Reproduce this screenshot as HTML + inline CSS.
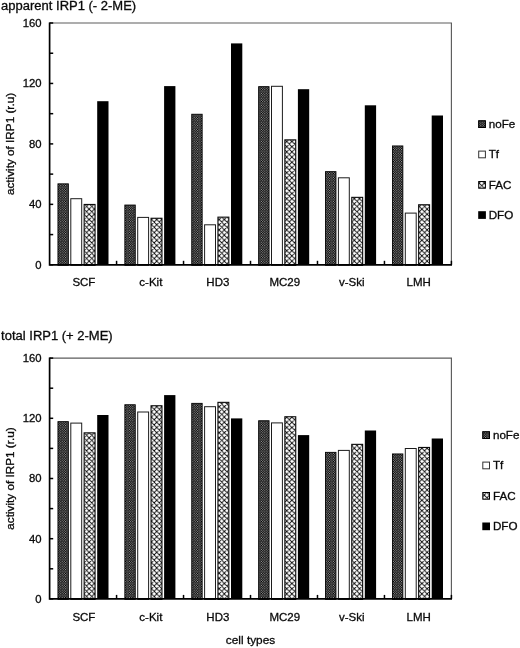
<!DOCTYPE html>
<html><head><meta charset="utf-8"><title>IRP1 activity</title>
<style>
html,body{margin:0;padding:0;background:#fff;}
body{width:520px;height:648px;overflow:hidden;}
svg{display:block;filter:grayscale(1) blur(0.22px);}
text{font-family:"Liberation Sans",Arial,Helvetica,sans-serif;font-size:12px;fill:#0a0a0a;stroke:#0a0a0a;stroke-width:0.3px;}
</style></head><body>
<svg width="520" height="648" viewBox="0 0 520 648">
<defs>
<pattern id="pn" patternUnits="userSpaceOnUse" x="57.9" y="0.3" width="2.4" height="2.4">
<rect width="2.4" height="2.4" fill="#000"/>
<rect x="0.12" y="0.12" width="0.95" height="0.95" fill="#c8c8c8"/>
<rect x="1.32" y="1.32" width="0.95" height="0.95" fill="#c8c8c8"/>
</pattern>
<pattern id="pf" patternUnits="userSpaceOnUse" x="83.9" y="203.9" width="5.2" height="5.2">
<rect width="5.2" height="5.2" fill="#fff"/>
<path d="M-1,-1L6.2,6.2M6.2,-1L-1,6.2M-1,4.2L1,6.2M4.2,-1L6.2,1M-1,1L1,-1M4.2,6.2L6.2,4.2" stroke="#050505" stroke-width="0.9" fill="none"/>
</pattern>
</defs>
<rect width="520" height="648" fill="#fff"/>

<g>
<text transform="translate(1.10,10.20) scale(1.040,1)" text-anchor="start" style="font-size:12.5px">apparent IRP1 (- 2-ME)</text>
<path d="M49.60,23.00H451.40V264.80" fill="none" stroke="#5c5c5c" stroke-width="1.15"/>
<rect x="57.95" y="183.85" width="10.40" height="81.40" fill="url(#pn)" stroke="#000" stroke-width="0.9"/>
<rect x="70.80" y="198.70" width="10.90" height="66.60" fill="#fff" stroke="#1c1c1c" stroke-width="1"/>
<rect x="84.15" y="204.45" width="10.90" height="60.90" fill="url(#pf)" stroke="#0a0a0a" stroke-width="1.1"/>
<rect x="97.20" y="101.20" width="11.30" height="163.60" fill="#000"/>
<rect x="124.85" y="205.05" width="10.40" height="60.20" fill="url(#pn)" stroke="#000" stroke-width="0.9"/>
<rect x="137.70" y="217.40" width="10.90" height="47.90" fill="#fff" stroke="#1c1c1c" stroke-width="1"/>
<rect x="151.05" y="218.25" width="10.90" height="47.10" fill="url(#pf)" stroke="#0a0a0a" stroke-width="1.1"/>
<rect x="164.10" y="86.10" width="11.30" height="178.70" fill="#000"/>
<rect x="191.75" y="114.25" width="10.40" height="151.00" fill="url(#pn)" stroke="#000" stroke-width="0.9"/>
<rect x="204.60" y="224.80" width="10.90" height="40.50" fill="#fff" stroke="#1c1c1c" stroke-width="1"/>
<rect x="217.95" y="217.15" width="10.90" height="48.20" fill="url(#pf)" stroke="#0a0a0a" stroke-width="1.1"/>
<rect x="231.00" y="43.40" width="11.30" height="221.40" fill="#000"/>
<rect x="258.65" y="86.65" width="10.40" height="178.60" fill="url(#pn)" stroke="#000" stroke-width="0.9"/>
<rect x="271.50" y="86.30" width="10.90" height="179.00" fill="#fff" stroke="#1c1c1c" stroke-width="1"/>
<rect x="284.85" y="139.85" width="10.90" height="125.50" fill="url(#pf)" stroke="#0a0a0a" stroke-width="1.1"/>
<rect x="297.90" y="89.20" width="11.30" height="175.60" fill="#000"/>
<rect x="325.55" y="171.65" width="10.40" height="93.60" fill="url(#pn)" stroke="#000" stroke-width="0.9"/>
<rect x="338.40" y="177.80" width="10.90" height="87.50" fill="#fff" stroke="#1c1c1c" stroke-width="1"/>
<rect x="351.75" y="197.35" width="10.90" height="68.00" fill="url(#pf)" stroke="#0a0a0a" stroke-width="1.1"/>
<rect x="364.80" y="105.30" width="11.30" height="159.50" fill="#000"/>
<rect x="392.45" y="145.95" width="10.40" height="119.30" fill="url(#pn)" stroke="#000" stroke-width="0.9"/>
<rect x="405.30" y="213.10" width="10.90" height="52.20" fill="#fff" stroke="#1c1c1c" stroke-width="1"/>
<rect x="418.65" y="204.75" width="10.90" height="60.60" fill="url(#pf)" stroke="#0a0a0a" stroke-width="1.1"/>
<rect x="431.70" y="115.50" width="11.30" height="149.30" fill="#000"/>
<path d="M49.60,22.40V264.80H452.00" fill="none" stroke="#000" stroke-width="1.7"/>
<path d="M49.60,264.80h3.6" stroke="#000" stroke-width="1.5"/>
<text transform="translate(41.50,268.70) scale(1.000,1)" text-anchor="end" style="font-size:11.3px">0</text>
<path d="M49.60,234.58h3.6" stroke="#000" stroke-width="1.5"/>
<path d="M49.60,204.35h3.6" stroke="#000" stroke-width="1.5"/>
<text transform="translate(41.50,208.25) scale(1.000,1)" text-anchor="end" style="font-size:11.3px">40</text>
<path d="M49.60,174.12h3.6" stroke="#000" stroke-width="1.5"/>
<path d="M49.60,143.90h3.6" stroke="#000" stroke-width="1.5"/>
<text transform="translate(41.50,147.80) scale(1.000,1)" text-anchor="end" style="font-size:11.3px">80</text>
<path d="M49.60,113.68h3.6" stroke="#000" stroke-width="1.5"/>
<path d="M49.60,83.45h3.6" stroke="#000" stroke-width="1.5"/>
<text transform="translate(41.50,87.35) scale(1.000,1)" text-anchor="end" style="font-size:11.3px">120</text>
<path d="M49.60,53.23h3.6" stroke="#000" stroke-width="1.5"/>
<path d="M49.60,23.00h3.6" stroke="#000" stroke-width="1.5"/>
<text transform="translate(41.50,26.90) scale(1.000,1)" text-anchor="end" style="font-size:11.3px">160</text>
<path d="M116.57,264.80v-4" stroke="#000" stroke-width="1.5"/>
<path d="M183.54,264.80v-4" stroke="#000" stroke-width="1.5"/>
<path d="M250.51,264.80v-4" stroke="#000" stroke-width="1.5"/>
<path d="M317.48,264.80v-4" stroke="#000" stroke-width="1.5"/>
<path d="M384.45,264.80v-4" stroke="#000" stroke-width="1.5"/>
<path d="M451.42,264.80v-4" stroke="#000" stroke-width="1.5"/>
<text transform="translate(83.89,285.90) scale(1.000,1)" text-anchor="middle" style="font-size:11.5px">SCF</text>
<text transform="translate(150.86,285.90) scale(1.000,1)" text-anchor="middle" style="font-size:11.5px">c-Kit</text>
<text transform="translate(217.83,285.90) scale(1.000,1)" text-anchor="middle" style="font-size:11.5px">HD3</text>
<text transform="translate(284.80,285.90) scale(1.000,1)" text-anchor="middle" style="font-size:11.5px">MC29</text>
<text transform="translate(351.77,285.90) scale(1.000,1)" text-anchor="middle" style="font-size:11.5px">v-Ski</text>
<text transform="translate(418.74,285.90) scale(1.000,1)" text-anchor="middle" style="font-size:11.5px">LMH</text>
<text transform="translate(14.20,143.90) rotate(-90) scale(1.130,1)" text-anchor="middle" style="font-size:10.4px">activity of IRP1 (r.u)</text>
<rect x="478.2" y="120.3" width="7.7" height="7.7" fill="url(#pn)"/>
<rect x="478.7" y="120.8" width="6.7" height="6.7" fill="none" stroke="#000" stroke-width="1"/>
<text transform="translate(488.70,127.80) scale(1.060,1)" text-anchor="start" style="font-size:11px">noFe</text>
<rect x="478.7" y="151.1" width="6.7" height="6.7" fill="#fff" stroke="#333" stroke-width="1"/>
<text transform="translate(488.70,158.10) scale(1.060,1)" text-anchor="start" style="font-size:11px">Tf</text>
<rect x="478.7" y="181.5" width="6.7" height="6.7" fill="url(#pf)" stroke="#000" stroke-width="1"/>
<text transform="translate(488.70,188.50) scale(1.060,1)" text-anchor="start" style="font-size:11px">FAC</text>
<rect x="478.2" y="211.2" width="7.7" height="7.7" fill="#000"/>
<text transform="translate(488.70,218.70) scale(1.060,1)" text-anchor="start" style="font-size:11px">DFO</text>
</g>
<g>
<text transform="translate(1.10,340.00) scale(1.040,1)" text-anchor="start" style="font-size:12.5px">total IRP1 (+ 2-ME)</text>
<path d="M49.60,358.10H451.40V598.90" fill="none" stroke="#5c5c5c" stroke-width="1.15"/>
<rect x="57.95" y="421.65" width="10.40" height="177.70" fill="url(#pn)" stroke="#000" stroke-width="0.9"/>
<rect x="70.80" y="423.10" width="10.90" height="176.30" fill="#fff" stroke="#1c1c1c" stroke-width="1"/>
<rect x="84.15" y="432.85" width="10.90" height="166.60" fill="url(#pf)" stroke="#0a0a0a" stroke-width="1.1"/>
<rect x="97.20" y="415.00" width="11.30" height="183.90" fill="#000"/>
<rect x="124.85" y="404.75" width="10.40" height="194.60" fill="url(#pn)" stroke="#000" stroke-width="0.9"/>
<rect x="137.70" y="412.00" width="10.90" height="187.40" fill="#fff" stroke="#1c1c1c" stroke-width="1"/>
<rect x="151.05" y="405.75" width="10.90" height="193.70" fill="url(#pf)" stroke="#0a0a0a" stroke-width="1.1"/>
<rect x="164.10" y="395.10" width="11.30" height="203.80" fill="#000"/>
<rect x="191.75" y="403.35" width="10.40" height="196.00" fill="url(#pn)" stroke="#000" stroke-width="0.9"/>
<rect x="204.60" y="406.70" width="10.90" height="192.70" fill="#fff" stroke="#1c1c1c" stroke-width="1"/>
<rect x="217.95" y="402.35" width="10.90" height="197.10" fill="url(#pf)" stroke="#0a0a0a" stroke-width="1.1"/>
<rect x="231.00" y="418.40" width="11.30" height="180.50" fill="#000"/>
<rect x="258.65" y="420.75" width="10.40" height="178.60" fill="url(#pn)" stroke="#000" stroke-width="0.9"/>
<rect x="271.50" y="422.90" width="10.90" height="176.50" fill="#fff" stroke="#1c1c1c" stroke-width="1"/>
<rect x="284.85" y="416.75" width="10.90" height="182.70" fill="url(#pf)" stroke="#0a0a0a" stroke-width="1.1"/>
<rect x="297.90" y="435.10" width="11.30" height="163.80" fill="#000"/>
<rect x="325.55" y="452.35" width="10.40" height="147.00" fill="url(#pn)" stroke="#000" stroke-width="0.9"/>
<rect x="338.40" y="450.40" width="10.90" height="149.00" fill="#fff" stroke="#1c1c1c" stroke-width="1"/>
<rect x="351.75" y="444.35" width="10.90" height="155.10" fill="url(#pf)" stroke="#0a0a0a" stroke-width="1.1"/>
<rect x="364.80" y="430.50" width="11.30" height="168.40" fill="#000"/>
<rect x="392.45" y="453.95" width="10.40" height="145.40" fill="url(#pn)" stroke="#000" stroke-width="0.9"/>
<rect x="405.30" y="448.50" width="10.90" height="150.90" fill="#fff" stroke="#1c1c1c" stroke-width="1"/>
<rect x="418.65" y="447.45" width="10.90" height="152.00" fill="url(#pf)" stroke="#0a0a0a" stroke-width="1.1"/>
<rect x="431.70" y="438.50" width="11.30" height="160.40" fill="#000"/>
<path d="M49.60,357.50V598.90H452.00" fill="none" stroke="#000" stroke-width="1.7"/>
<path d="M49.60,598.90h3.6" stroke="#000" stroke-width="1.5"/>
<text transform="translate(41.50,602.80) scale(1.000,1)" text-anchor="end" style="font-size:11.3px">0</text>
<path d="M49.60,568.80h3.6" stroke="#000" stroke-width="1.5"/>
<path d="M49.60,538.70h3.6" stroke="#000" stroke-width="1.5"/>
<text transform="translate(41.50,542.60) scale(1.000,1)" text-anchor="end" style="font-size:11.3px">40</text>
<path d="M49.60,508.60h3.6" stroke="#000" stroke-width="1.5"/>
<path d="M49.60,478.50h3.6" stroke="#000" stroke-width="1.5"/>
<text transform="translate(41.50,482.40) scale(1.000,1)" text-anchor="end" style="font-size:11.3px">80</text>
<path d="M49.60,448.40h3.6" stroke="#000" stroke-width="1.5"/>
<path d="M49.60,418.30h3.6" stroke="#000" stroke-width="1.5"/>
<text transform="translate(41.50,422.20) scale(1.000,1)" text-anchor="end" style="font-size:11.3px">120</text>
<path d="M49.60,388.20h3.6" stroke="#000" stroke-width="1.5"/>
<path d="M49.60,358.10h3.6" stroke="#000" stroke-width="1.5"/>
<text transform="translate(41.50,362.00) scale(1.000,1)" text-anchor="end" style="font-size:11.3px">160</text>
<path d="M116.57,598.90v-4" stroke="#000" stroke-width="1.5"/>
<path d="M183.54,598.90v-4" stroke="#000" stroke-width="1.5"/>
<path d="M250.51,598.90v-4" stroke="#000" stroke-width="1.5"/>
<path d="M317.48,598.90v-4" stroke="#000" stroke-width="1.5"/>
<path d="M384.45,598.90v-4" stroke="#000" stroke-width="1.5"/>
<path d="M451.42,598.90v-4" stroke="#000" stroke-width="1.5"/>
<text transform="translate(83.89,620.60) scale(1.000,1)" text-anchor="middle" style="font-size:11.5px">SCF</text>
<text transform="translate(150.86,620.60) scale(1.000,1)" text-anchor="middle" style="font-size:11.5px">c-Kit</text>
<text transform="translate(217.83,620.60) scale(1.000,1)" text-anchor="middle" style="font-size:11.5px">HD3</text>
<text transform="translate(284.80,620.60) scale(1.000,1)" text-anchor="middle" style="font-size:11.5px">MC29</text>
<text transform="translate(351.77,620.60) scale(1.000,1)" text-anchor="middle" style="font-size:11.5px">v-Ski</text>
<text transform="translate(418.74,620.60) scale(1.000,1)" text-anchor="middle" style="font-size:11.5px">LMH</text>
<text transform="translate(14.20,478.50) rotate(-90) scale(1.130,1)" text-anchor="middle" style="font-size:10.4px">activity of IRP1 (r.u)</text>
<rect x="482.3" y="431.2" width="7.7" height="7.7" fill="url(#pn)"/>
<rect x="482.8" y="431.8" width="6.7" height="6.7" fill="none" stroke="#000" stroke-width="1"/>
<text transform="translate(492.90,438.75) scale(1.060,1)" text-anchor="start" style="font-size:11px">noFe</text>
<rect x="482.8" y="462.1" width="6.7" height="6.7" fill="#fff" stroke="#333" stroke-width="1"/>
<text transform="translate(492.90,469.10) scale(1.060,1)" text-anchor="start" style="font-size:11px">Tf</text>
<rect x="482.8" y="492.5" width="6.7" height="6.7" fill="url(#pf)" stroke="#000" stroke-width="1"/>
<text transform="translate(492.90,499.50) scale(1.060,1)" text-anchor="start" style="font-size:11px">FAC</text>
<rect x="482.3" y="522.5" width="7.7" height="7.7" fill="#000"/>
<text transform="translate(492.90,530.00) scale(1.060,1)" text-anchor="start" style="font-size:11px">DFO</text>
</g>
<text transform="translate(250.50,643.80) scale(1.030,1)" text-anchor="middle" style="font-size:11.5px">cell types</text>
</svg></body></html>
